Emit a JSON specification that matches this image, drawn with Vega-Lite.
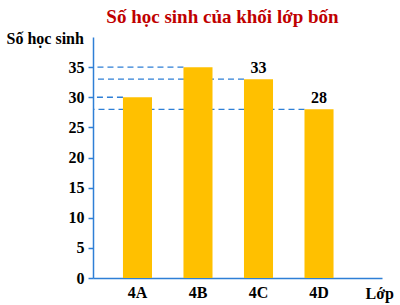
{
  "$schema": "https://vega.github.io/schema/vega-lite/v6.json",
  "width": 289,
  "height": 241,
  "autosize": "none",
  "padding": {"left": 93, "top": 37, "right": 18, "bottom": 27},
  "background": "white",
  "title": {
    "text": "Số học sinh của khối lớp bốn",
    "font": "Liberation Serif, Times New Roman, serif",
    "fontSize": 19,
    "fontWeight": "bold",
    "color": "#C00000",
    "anchor": "middle",
    "frame": "group",
    "dx": -15,
    "offset": 3
  },
  "data": {
    "values": [
      {"class": "4A", "students": 30},
      {"class": "4B", "students": 35},
      {"class": "4C", "students": 33},
      {"class": "4D", "students": 28}
    ]
  },
  "encoding": {
    "x": {
      "field": "class",
      "type": "nominal",
      "sort": null,
      "scale": {"paddingInner": 0.52, "paddingOuter": 0.648, "align": 0.382},
      "axis": {
        "labelAngle": 0,
        "ticks": false,
        "domainColor": "#2E7FD6",
        "domainWidth": 1.5,
        "labelFont": "Liberation Serif, Times New Roman, serif",
        "labelFontSize": 16,
        "labelFontWeight": "bold",
        "labelColor": "black",
        "labelPadding": 6,
        "title": "Lớp",
        "titleFont": "Liberation Serif, Times New Roman, serif",
        "titleFontSize": 16,
        "titleFontWeight": "bold",
        "titleColor": "black",
        "titleAlign": "left",
        "titleBaseline": "alphabetic",
        "titleX": 272,
        "titleY": 20
      }
    },
    "y": {
      "field": "students",
      "type": "quantitative",
      "scale": {"domain": [0, 40], "nice": false},
      "axis": {
        "values": [0, 5, 10, 15, 20, 25, 30, 35],
        "labelOverlap": false,
        "grid": false,
        "domainColor": "#2E7FD6",
        "domainWidth": 1.5,
        "tickColor": "#2E7FD6",
        "tickWidth": 1.5,
        "tickSize": 5,
        "labelFont": "Liberation Serif, Times New Roman, serif",
        "labelFontSize": 16,
        "labelFontWeight": "bold",
        "labelColor": "black",
        "labelPadding": 4,
        "title": "Số học sinh",
        "titleFont": "Liberation Serif, Times New Roman, serif",
        "titleFontSize": 16,
        "titleFontWeight": "bold",
        "titleColor": "black",
        "titleAngle": 0,
        "titleAlign": "left",
        "titleBaseline": "alphabetic",
        "titleX": -87,
        "titleY": 6
      }
    }
  },
  "layer": [
    {
      "mark": {"type": "rule", "strokeDash": [6, 4], "color": "#2E7FD6", "strokeWidth": 1.3},
      "encoding": {
        "x": {"field": "class", "type": "nominal", "sort": null, "bandPosition": 0},
        "x2": {"value": 0}
      }
    },
    {
      "mark": {"type": "bar", "color": "#FFC000"},
      "encoding": {}
    },
    {
      "transform": [{"filter": {"field": "class", "oneOf": ["4C", "4D"]}}],
      "mark": {"type": "text", "font": "Liberation Serif, Times New Roman, serif", "fontSize": 16, "fontWeight": "bold", "color": "black", "baseline": "bottom", "dy": -3},
      "encoding": {
        "text": {"field": "students", "type": "quantitative"}
      }
    }
  ],
  "config": {"view": {"stroke": null}}
}
